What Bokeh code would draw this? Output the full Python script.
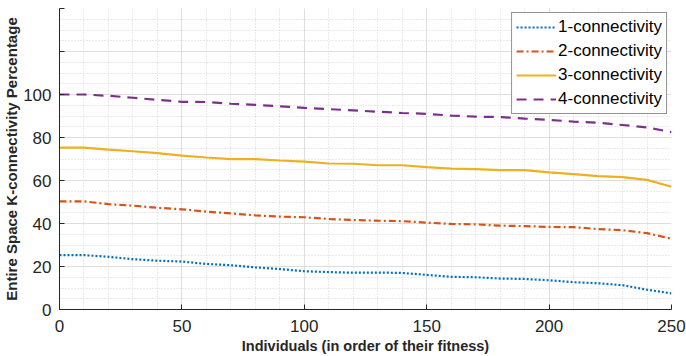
from bokeh.plotting import figure
from bokeh.models import Range1d, FixedTicker, Legend, LegendItem
from bokeh.embed import file_html
from bokeh.resources import INLINE

# Data
individuals = [0, 10, 20, 30, 40, 50, 60, 70, 80, 90, 100, 110, 120, 130,
               140, 150, 160, 170, 180, 190, 200, 210, 220, 230, 240, 250]
conn1 = [25.3, 25.3, 24.5, 23.4, 22.7, 22.3, 21.2, 20.6, 19.6, 18.8, 17.8, 17.4, 17.1,
         17.2, 17.0, 16.1, 15.2, 15.0, 14.4, 14.2, 13.6, 12.7, 12.2, 11.3, 9.2, 7.5]
conn2 = [50.3, 50.3, 49.0, 48.3, 47.3, 46.6, 45.5, 44.7, 43.8, 43.2, 42.9, 42.1, 41.6,
         41.3, 41.1, 40.4, 39.8, 39.6, 39.0, 38.8, 38.4, 38.3, 37.4, 36.9, 35.5, 32.9]
conn3 = [75.3, 75.3, 74.4, 73.6, 72.7, 71.6, 70.7, 69.9, 69.9, 69.3, 68.8, 67.9, 67.8,
         67.1, 67.1, 66.2, 65.5, 65.3, 64.8, 64.8, 63.8, 63.0, 62.0, 61.6, 60.3, 57.1]
conn4 = [100.0, 100.0, 99.4, 98.5, 97.5, 96.6, 96.5, 95.7, 95.2, 94.5, 93.8, 93.2, 92.6,
         92.0, 91.4, 91.0, 90.2, 89.7, 89.5, 88.8, 88.2, 87.4, 86.9, 85.8, 84.7, 82.5]
series_names = ["1-connectivity", "2-connectivity", "3-connectivity", "4-connectivity"]
x_ticks = [0, 50, 100, 150, 200, 250]
y_ticks = [0, 20, 40, 60, 80, 100, 120, 140]
y_labels = {120: "", 140: ""}

FONT = "Liberation Sans"
TXT = "#262626"

p = figure(width=686, height=356, output_backend="svg", toolbar_location=None,
           x_range=Range1d(0, 250), y_range=Range1d(0, 140),
           min_border_left=58, min_border_right=15, min_border_top=8, min_border_bottom=47)
p.background_fill_color = "white"
p.border_fill_color = "white"
p.outline_line_color = None

p.xaxis.ticker = FixedTicker(ticks=x_ticks, minor_ticks=list(range(0, 251, 10)))
p.yaxis.ticker = FixedTicker(ticks=y_ticks, minor_ticks=list(range(0, 141, 5)))
p.yaxis.major_label_overrides = y_labels

for ax in (p.xaxis[0], p.yaxis[0]):
    ax.axis_line_color = TXT
    ax.axis_line_width = 1
    ax.major_tick_line_color = TXT
    ax.major_tick_in = 5
    ax.major_tick_out = 0
    ax.minor_tick_line_color = None
    ax.major_label_text_font = FONT
    ax.major_label_text_font_size = "17px"
    ax.major_label_text_color = TXT
    ax.axis_label_text_font = FONT
    ax.axis_label_text_font_style = "bold"
    ax.axis_label_text_color = TXT

p.xaxis.axis_label = "Individuals (in order of their fitness)"
p.yaxis.axis_label = "Entire Space K-connectivity Percentage"
p.xaxis.axis_label_text_font_size = "14.5px"
p.yaxis.axis_label_text_font_size = "15px"
p.xaxis.major_label_standoff = 6
p.yaxis.major_label_standoff = 4
p.xaxis.axis_label_standoff = 3
p.yaxis.axis_label_standoff = 0

for g in (p.xgrid[0], p.ygrid[0]):
    g.grid_line_color = "#dedede"
    g.grid_line_width = 1
    g.minor_grid_line_color = "#d4d4d4"
    g.minor_grid_line_dash = "1 2"
    g.minor_grid_line_width = 1

r1 = p.line(individuals, conn1, line_color="#0072BD", line_width=2.2, line_dash="2 2")
r2 = p.line(individuals, conn2, line_color="#D95319", line_width=2.2, line_dash="7 3 2 3")
r3 = p.line(individuals, conn3, line_color="#EDB120", line_width=2.2)
r4 = p.line(individuals, conn4, line_color="#7E2F8E", line_width=2.2, line_dash="10 7")

legend = Legend(items=[LegendItem(label=n, renderers=[r]) for n, r in
                       zip(series_names, [r1, r2, r3, r4])],
                location="top_right")
legend.label_text_font = FONT
legend.label_text_font_size = "17px"
legend.label_text_color = "black"
legend.border_line_color = TXT
legend.border_line_width = 1
legend.background_fill_color = "white"
legend.background_fill_alpha = 1
legend.glyph_width = 40
legend.glyph_height = 20
legend.label_height = 20
legend.spacing = 4
legend.padding = 4
legend.margin = 4
legend.label_standoff = 2
p.add_layout(legend)

open("out.html", "w").write(file_html(p, INLINE))
